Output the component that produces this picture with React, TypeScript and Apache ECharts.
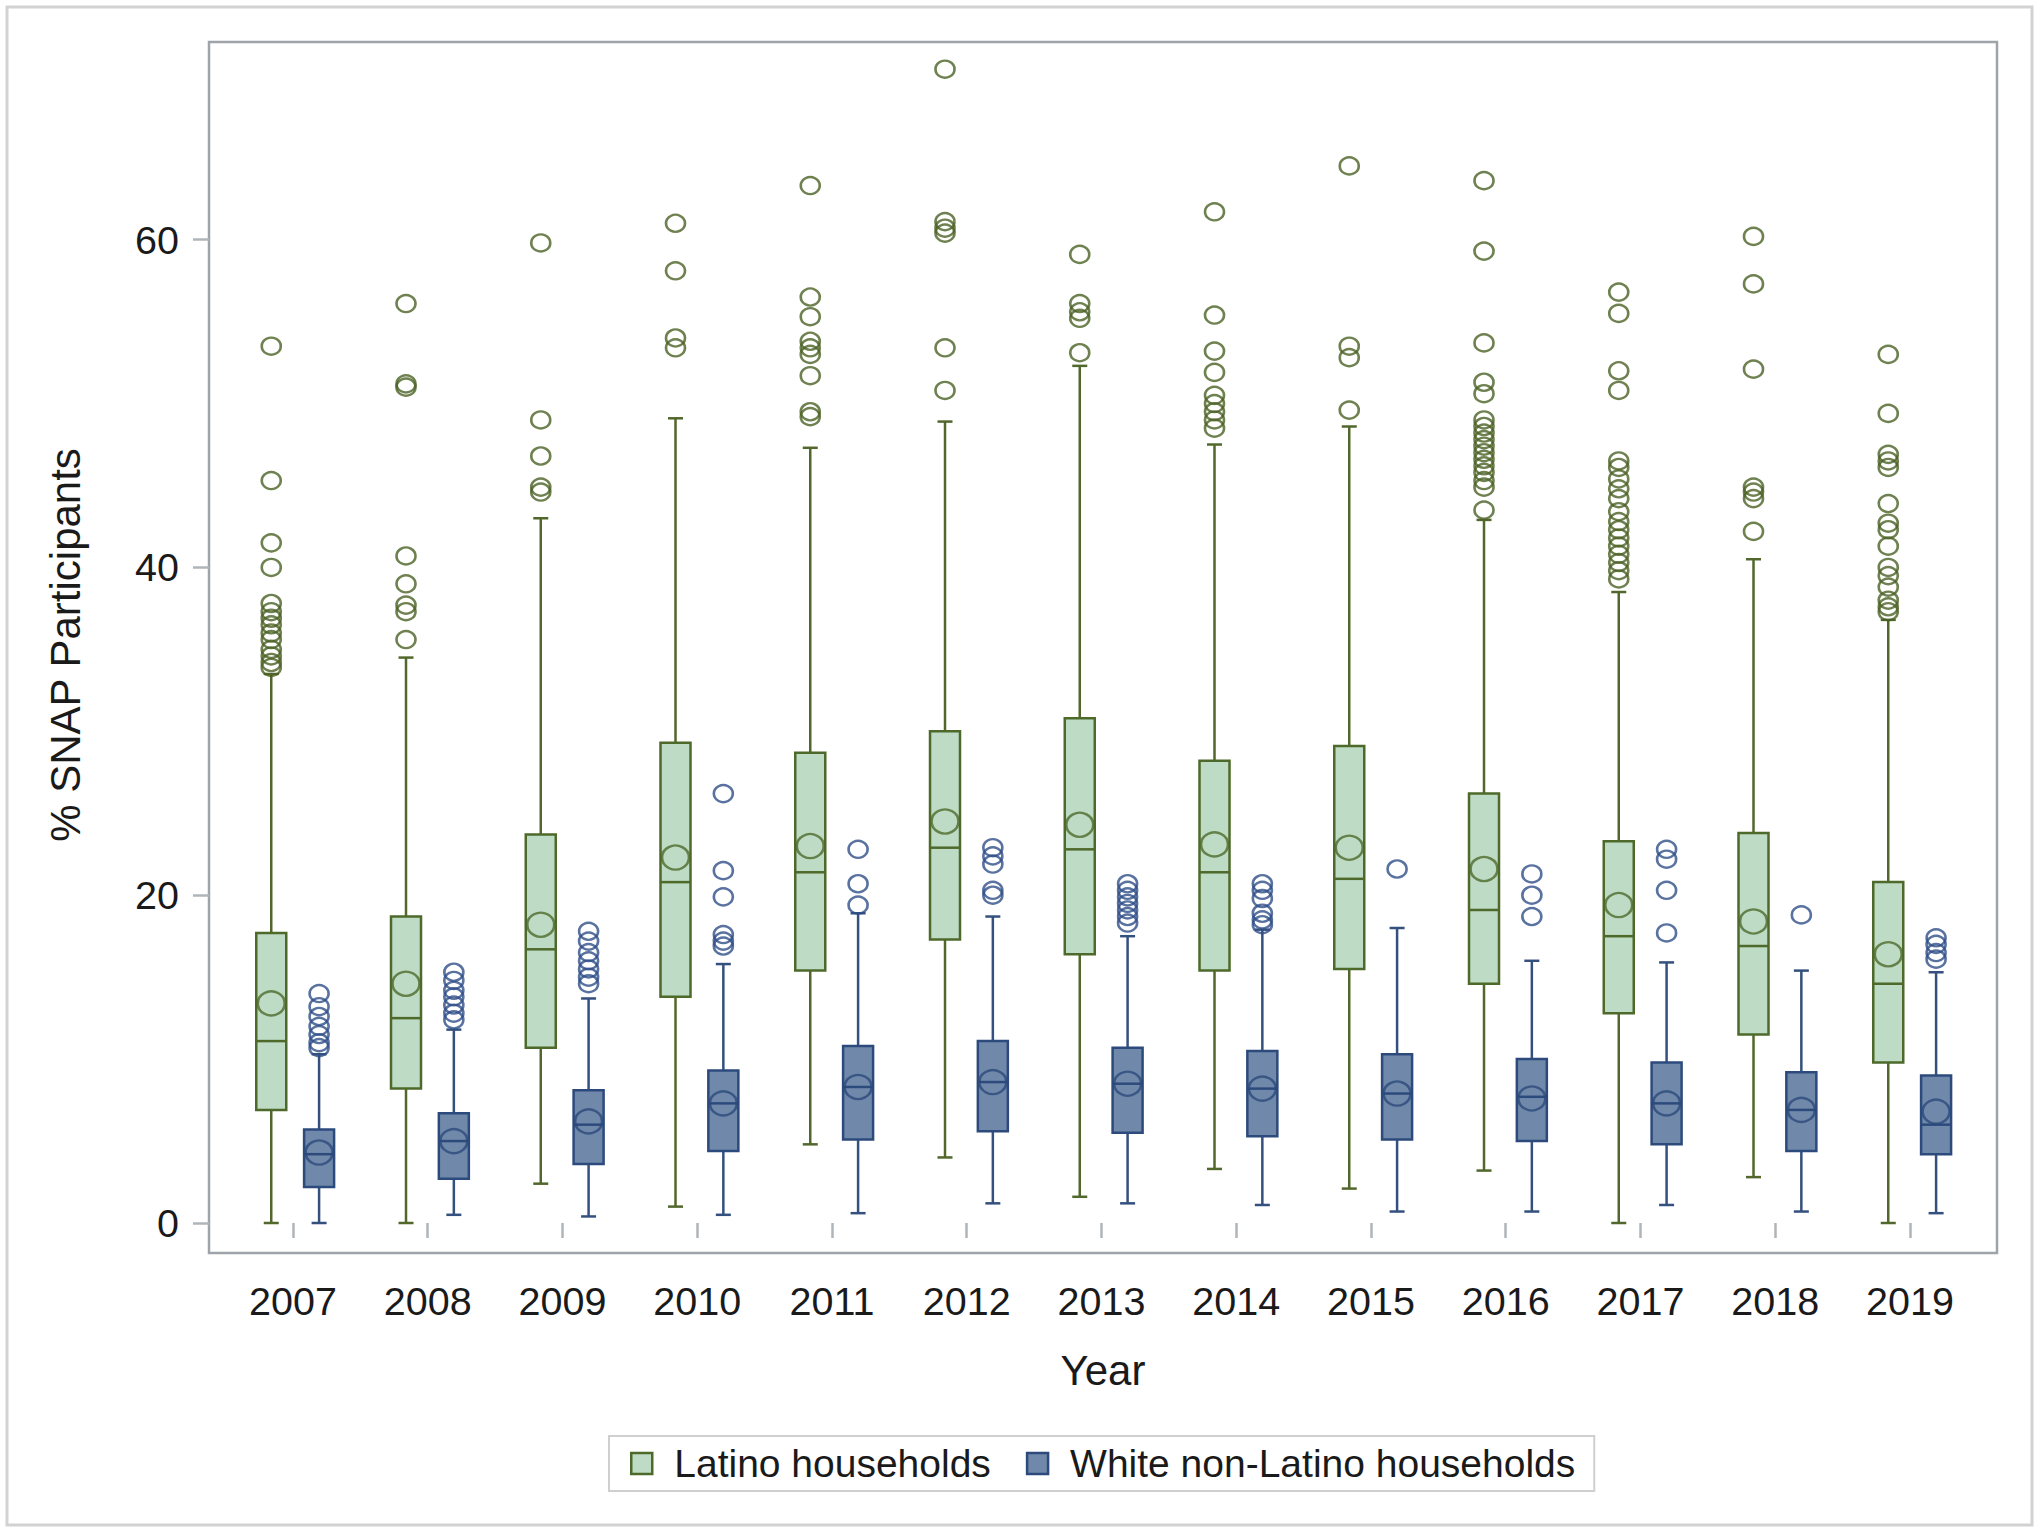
import React, { useEffect, useRef } from "react";
import * as echarts from "echarts";

const years = [2007, 2008, 2009, 2010, 2011, 2012, 2013, 2014, 2015, 2016, 2017, 2018, 2019];

// Latino households: whisker low, Q1, median, Q3, whisker high, mean
const latinoMin = [0, 0, 2.4, 1.0, 4.8, 4.0, 1.6, 3.3, 2.1, 3.2, 0, 2.8, 0];
const latinoQ1 = [6.9, 8.2, 10.7, 13.8, 15.4, 17.3, 16.4, 15.4, 15.5, 14.6, 12.8, 11.5, 9.8];
const latinoMedian = [11.1, 12.5, 16.7, 20.8, 21.4, 22.9, 22.8, 21.4, 21.0, 19.1, 17.5, 16.9, 14.6];
const latinoQ3 = [17.7, 18.7, 23.7, 29.3, 28.7, 30.0, 30.8, 28.2, 29.1, 26.2, 23.3, 23.8, 20.8];
const latinoMax = [33.5, 34.5, 43.0, 49.1, 47.3, 48.9, 52.3, 47.5, 48.6, 42.9, 38.5, 40.5, 36.8];
const latinoMean = [13.4, 14.6, 18.2, 22.3, 23.0, 24.5, 24.3, 23.1, 22.9, 21.6, 19.4, 18.4, 16.4];
const latinoOutliers = [
  [53.5, 45.3, 41.5, 40.0, 37.8, 37.3, 36.9, 36.5, 36.0, 35.6, 35.0, 34.6, 34.2, 33.9],
  [56.1, 51.2, 51.0, 40.7, 39.0, 37.7, 37.3, 35.6],
  [59.8, 49.0, 46.8, 44.9, 44.6],
  [61.0, 58.1, 54.0, 53.4],
  [63.3, 56.5, 55.3, 53.8, 53.4, 53.0, 51.7, 49.5, 49.2],
  [70.4, 61.1, 60.7, 60.4, 53.4, 50.8],
  [59.1, 56.1, 55.6, 55.2, 53.1],
  [61.7, 55.4, 53.2, 51.9, 50.5, 50.0, 49.5, 49.0, 48.5],
  [64.5, 53.5, 52.8, 49.6],
  [63.6, 59.3, 53.7, 51.3, 50.6, 49.0, 48.6, 48.2, 47.8, 47.4, 47.0, 46.6, 46.2, 45.8, 45.3, 44.9, 43.5],
  [56.8, 55.5, 52.0, 50.8, 46.5, 46.1, 45.4, 44.8, 44.2, 43.4, 42.8, 42.3, 41.8, 41.3, 40.8, 40.3, 39.8, 39.3],
  [60.2, 57.3, 52.1, 44.9, 44.6, 44.2, 42.2],
  [53.0, 49.4, 46.9, 46.5, 46.1, 43.9, 42.7, 42.3, 41.3, 40.0, 39.5, 38.8, 38.0, 37.6, 37.3],
];

// White non-Latino households
const whiteMin = [0, 0.5, 0.4, 0.5, 0.6, 1.2, 1.2, 1.1, 0.7, 0.7, 1.1, 0.7, 0.6];
const whiteQ1 = [2.2, 2.7, 3.6, 4.4, 5.1, 5.6, 5.5, 5.3, 5.1, 5.0, 4.8, 4.4, 4.2];
const whiteMedian = [4.2, 5.0, 6.0, 7.3, 8.3, 8.6, 8.5, 8.2, 7.9, 7.7, 7.3, 6.9, 6.0];
const whiteQ3 = [5.7, 6.7, 8.1, 9.3, 10.8, 11.1, 10.7, 10.5, 10.3, 10.0, 9.8, 9.2, 9.0];
const whiteMax = [10.3, 11.8, 13.7, 15.8, 18.9, 18.7, 17.5, 17.9, 18.0, 16.0, 15.9, 15.4, 15.3];
const whiteMean = [4.3, 5.0, 6.2, 7.3, 8.3, 8.6, 8.5, 8.2, 7.9, 7.6, 7.3, 6.9, 6.8];
const whiteOutliers = [
  [14.0, 13.2, 12.6, 12.0, 11.5, 11.0, 10.7],
  [15.3, 14.8, 14.2, 13.8, 13.3, 12.8, 12.4],
  [17.8, 17.2, 16.5, 16.0, 15.5, 15.0, 14.6],
  [26.2, 21.5, 19.9, 17.6, 17.2, 16.9],
  [22.8, 20.7, 19.4],
  [22.9, 22.4, 21.9, 20.3, 20.0],
  [20.7, 20.3, 19.9, 19.5, 19.1, 18.7, 18.3],
  [20.7, 20.3, 19.8, 18.9, 18.5, 18.2],
  [21.6],
  [21.3, 20.0, 18.7],
  [22.8, 22.2, 20.3, 17.7],
  [18.8],
  [17.4, 17.0, 16.5, 16.1],
];

const yTicks = [0, 20, 40, 60];
const seriesNames = ["Latino households", "White non-Latino households"];

const FONT = '"Liberation Sans", Arial, Helvetica, sans-serif';
const LAT_OFF = -0.161;
const WHITE_OFF = 0.194;

const LAT = { fill: "#bddbc5", stroke: "#4e6a2a", whisker: "#52672b", outlier: "#4b6224" };
const WHT = { fill: "#7089aa", stroke: "#2c4a7c", whisker: "#34507e", outlier: "#2f4f88" };

function makeBoxRender(colors: { fill: string; stroke: string; whisker: string }) {
  return (params: any, api: any) => {
    const x = api.value(0);
    const pMin = api.coord([x, api.value(1)]);
    const pQ1 = api.coord([x, api.value(2)]);
    const pMed = api.coord([x, api.value(3)]);
    const pQ3 = api.coord([x, api.value(4)]);
    const pMax = api.coord([x, api.value(5)]);
    const cx = pMin[0];
    const hw = 15;
    const cw = 7.5;
    const ws = { stroke: colors.whisker, lineWidth: 2.5 };
    return {
      type: "group",
      children: [
        { type: "line", shape: { x1: cx, y1: pMax[1], x2: cx, y2: pQ3[1] }, style: ws },
        { type: "line", shape: { x1: cx, y1: pQ1[1], x2: cx, y2: pMin[1] }, style: ws },
        { type: "line", shape: { x1: cx - cw, y1: pMax[1], x2: cx + cw, y2: pMax[1] }, style: ws },
        { type: "line", shape: { x1: cx - cw, y1: pMin[1], x2: cx + cw, y2: pMin[1] }, style: ws },
        {
          type: "rect",
          shape: { x: cx - hw, y: pQ3[1], width: hw * 2, height: pQ1[1] - pQ3[1] },
          style: { fill: colors.fill, stroke: colors.stroke, lineWidth: 2.5 },
        },
        {
          type: "line",
          shape: { x1: cx - hw, y1: pMed[1], x2: cx + hw, y2: pMed[1] },
          style: { stroke: colors.stroke, lineWidth: 2.5 },
        },
      ],
    };
  };
}

export default function App() {
  const ref = useRef<HTMLDivElement>(null);

  useEffect(() => {
    if (!ref.current) return;
    const chart = echarts.init(ref.current, null, { renderer: "svg" });

    const latBoxes = years.map((y, i) => [y + LAT_OFF, latinoMin[i], latinoQ1[i], latinoMedian[i], latinoQ3[i], latinoMax[i]]);
    const whtBoxes = years.map((y, i) => [y + WHITE_OFF, whiteMin[i], whiteQ1[i], whiteMedian[i], whiteQ3[i], whiteMax[i]]);
    const latOut = years.flatMap((y, i) => latinoOutliers[i].map((v) => [y + LAT_OFF, v]));
    const whtOut = years.flatMap((y, i) => whiteOutliers[i].map((v) => [y + WHITE_OFF, v]));
    const latMean = years.map((y, i) => [y + LAT_OFF, latinoMean[i]]);
    const whtMean = years.map((y, i) => [y + WHITE_OFF, whiteMean[i]]);

    const hollow = (color: string) => ({ color: "rgba(0,0,0,0)", borderColor: color, borderWidth: 2.5 });

    const option: any = {
      animation: false,
      backgroundColor: "#ffffff",
      textStyle: { fontFamily: FONT },
      grid: {
        left: 209,
        top: 42,
        right: 43,
        bottom: 280,
        show: true,
        borderColor: "#9ea4aa",
        borderWidth: 2.5,
        backgroundColor: "rgba(0,0,0,0)",
      },
      xAxis: {
        type: "value",
        min: 2006.377,
        max: 2019.646,
        axisLine: { show: false },
        splitLine: { show: false },
        axisTick: { show: true, customValues: years, length: 15, lineStyle: { color: "#b0b5b9", width: 2.5 } },
        axisLabel: {
          customValues: years,
          fontSize: 39.5,
          fontFamily: FONT,
          color: "#1a1a1a",
          margin: 28,
          formatter: (v: number) => String(v),
        },
      },
      yAxis: {
        type: "value",
        min: -1.83,
        max: 72.06,
        axisLine: { show: false },
        splitLine: { show: false },
        axisTick: { show: true, customValues: yTicks, length: 16, lineStyle: { color: "#b0b5b9", width: 2.5 } },
        axisLabel: {
          customValues: yTicks,
          fontSize: 39.5,
          fontFamily: FONT,
          color: "#1a1a1a",
          margin: 30,
          formatter: (v: number) => String(v),
        },
      },
      legend: {
        left: 609,
        top: 1436,
        orient: "horizontal",
        borderColor: "#cfcfcf",
        borderWidth: 2,
        padding: [8, 19, 8, 21],
        itemWidth: 21,
        itemHeight: 21,
        itemGap: 35,
        textStyle: { fontSize: 39, fontFamily: FONT, color: "#1a1a1a", padding: [0, 0, 0, 17] },
        data: [
          { name: seriesNames[0], icon: "rect", itemStyle: { color: LAT.fill, borderColor: LAT.stroke, borderWidth: 2.5 } },
          { name: seriesNames[1], icon: "rect", itemStyle: { color: WHT.fill, borderColor: WHT.stroke, borderWidth: 2.5 } },
        ],
        selectedMode: false,
      },
      series: [
        {
          name: seriesNames[0],
          type: "custom",
          renderItem: makeBoxRender(LAT),
          encode: { x: 0, y: [1, 2, 3, 4, 5] },
          data: latBoxes,
          itemStyle: { color: LAT.fill, borderColor: LAT.stroke },
          silent: true,
          z: 2,
        },
        {
          name: seriesNames[1],
          type: "custom",
          renderItem: makeBoxRender(WHT),
          encode: { x: 0, y: [1, 2, 3, 4, 5] },
          data: whtBoxes,
          itemStyle: { color: WHT.fill, borderColor: WHT.stroke },
          silent: true,
          z: 2,
        },
        {
          name: seriesNames[0],
          type: "scatter",
          data: latOut,
          symbol: "circle",
          symbolSize: [19, 17],
          itemStyle: hollow(LAT.outlier),
          silent: true,
          z: 3,
        },
        {
          name: seriesNames[1],
          type: "scatter",
          data: whtOut,
          symbol: "circle",
          symbolSize: [19, 17],
          itemStyle: hollow(WHT.outlier),
          silent: true,
          z: 3,
        },
        {
          name: seriesNames[0],
          type: "scatter",
          data: latMean,
          symbol: "circle",
          symbolSize: [27, 24],
          itemStyle: hollow(LAT.stroke),
          silent: true,
          z: 4,
        },
        {
          name: seriesNames[1],
          type: "scatter",
          data: whtMean,
          symbol: "circle",
          symbolSize: [27, 24],
          itemStyle: hollow(WHT.stroke),
          silent: true,
          z: 4,
        },
      ],
      graphic: [
        {
          type: "rect",
          shape: { x: 7, y: 7, width: 2025, height: 1518 },
          style: { fill: "none", stroke: "#d2d2d2", lineWidth: 3 },
          silent: true,
        },
        {
          type: "text",
          x: 65,
          y: 645,
          rotation: Math.PI / 2,
          style: {
            text: "% SNAP Participants",
            fontSize: 42,
            fontFamily: FONT,
            fill: "#1a1a1a",
            align: "center",
            verticalAlign: "middle",
            textAlign: "center",
            textVerticalAlign: "middle",
          },
          silent: true,
        },
        {
          type: "text",
          x: 1103,
          y: 1370,
          style: {
            text: "Year",
            fontSize: 42,
            fontFamily: FONT,
            fill: "#1a1a1a",
            align: "center",
            verticalAlign: "middle",
            textAlign: "center",
            textVerticalAlign: "middle",
          },
          silent: true,
        },
      ],
    };

    chart.setOption(option);
    return () => chart.dispose();
  }, []);

  return (
    <div
      ref={ref}
      style={{ position: "fixed", left: 0, top: 0, width: 2040, height: 1533, background: "#ffffff" }}
    />
  );
}
